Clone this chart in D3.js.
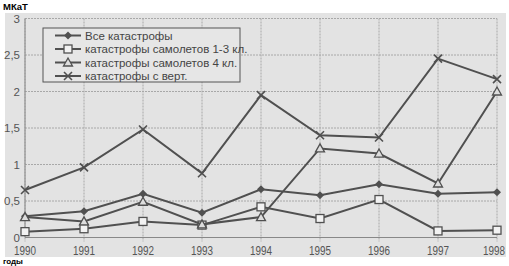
<!DOCTYPE html>
<html><head><meta charset="utf-8">
<script src="https://cdn.jsdelivr.net/npm/d3@7"></script>
<style>body{margin:0;background:#fff}svg{display:block}</style>
</head><body><svg id="c" width="509" height="266"></svg>
<script>
const years = [1990,1991,1992,1993,1994,1995,1996,1997,1998];
const allCat = [0.29,0.36,0.60,0.34,0.66,0.58,0.73,0.60,0.62];
const plane13 = [0.08,0.12,0.22,0.17,0.42,0.26,0.52,0.09,0.10];
const plane4 = [0.28,0.22,0.49,0.18,0.28,1.22,1.15,0.74,2.00];
const heli = [0.65,0.96,1.48,0.88,1.95,1.40,1.37,2.45,2.17];
const seriesNames = ["Все катастрофы","катастрофы самолетов 1-3 кл.","катастрофы самолетов 4 кл.","катастрофы с верт."];
const yTicks = [0,0.5,1,1.5,2,2.5,3];
const yTickLabels = ["0","0,5","1","1,5","2","2,5","3"];
const yTitle = "МКаТ";
const xTitle = "годы";

const series = [
  {name:seriesNames[0], values:allCat, sym:"diamond"},
  {name:seriesNames[1], values:plane13, sym:"square"},
  {name:seriesNames[2], values:plane4, sym:"triangle"},
  {name:seriesNames[3], values:heli, sym:"cross"}
];
const svg = d3.select("#c");
const x = d3.scalePoint().domain(years).range([25,497]);
const y = d3.scaleLinear().domain([0,3]).range([237.5,18.5]);
const lineCol = "#505050";
const font = "Arial, 'Liberation Sans', sans-serif";

svg.append("rect").attr("x",5).attr("y",13).attr("width",501).attr("height",244).attr("fill","#e3e3e3");

// grid
svg.append("g").selectAll("line").data(yTicks).join("line")
  .attr("x1",x(years[0])).attr("x2",x(years[years.length-1]))
  .attr("y1",d=>y(d)).attr("y2",d=>y(d))
  .attr("stroke","#a8a8a8").attr("stroke-width",1).attr("stroke-dasharray","2,1");
svg.append("g").selectAll("line").data(years).join("line")
  .attr("x1",d=>x(d)).attr("x2",d=>x(d))
  .attr("y1",y(3)).attr("y2",y(0)+4)
  .attr("stroke","#a8a8a8").attr("stroke-width",1).attr("stroke-dasharray","2,1");
svg.append("line").attr("x1",x(years[0])).attr("x2",x(years[0])).attr("y1",y(3)).attr("y2",y(0))
  .attr("stroke","#888");
svg.append("line").attr("x1",x(years[0])).attr("x2",x(years[years.length-1])).attr("y1",y(0)).attr("y2",y(0))
  .attr("stroke","#888");

// axes labels
svg.append("g").selectAll("text").data(yTicks).join("text")
  .attr("x",20).attr("y",d=>y(d)+4).attr("text-anchor","end")
  .attr("font-family",font).attr("font-size",11.5).attr("fill","#555")
  .text((d,i)=>yTickLabels[i]);
svg.append("g").selectAll("text").data(years).join("text")
  .attr("x",d=>Math.min(x(d),494)).attr("y",255).attr("text-anchor","middle")
  .attr("font-family",font).attr("font-size",12).attr("fill","#555")
  .attr("textLength",22).attr("lengthAdjust","spacingAndGlyphs")
  .text(d=>d);

svg.append("text").attr("x",3).attr("y",9.5).attr("font-family",font).attr("font-weight","bold")
  .attr("font-size",9.5).attr("fill","#000").text(yTitle);
svg.append("text").attr("x",3).attr("y",264).attr("font-family",font).attr("font-weight","bold")
  .attr("font-size",8).attr("fill","#000").text(xTitle);

function drawSym(g, sym, cx, cy){
  if(sym==="diamond"){
    g.append("path").attr("d",`M${cx},${cy-4}L${cx+4},${cy}L${cx},${cy+4}L${cx-4},${cy}Z`).attr("fill",lineCol);
  } else if(sym==="square"){
    g.append("rect").attr("x",cx-4).attr("y",cy-4).attr("width",8).attr("height",8)
      .attr("fill","#f2f2f2").attr("stroke",lineCol).attr("stroke-width",1.3);
  } else if(sym==="triangle"){
    g.append("path").attr("d",`M${cx},${cy-4.5}L${cx+4.5},${cy+3.5}L${cx-4.5},${cy+3.5}Z`)
      .attr("fill","#ddd").attr("stroke",lineCol).attr("stroke-width",1.3);
  } else {
    g.append("path").attr("d",`M${cx-4},${cy-4}L${cx+4},${cy+4}M${cx+4},${cy-4}L${cx-4},${cy+4}`)
      .attr("stroke",lineCol).attr("stroke-width",1.6);
  }
}

const line = d3.line().x((d,i)=>x(years[i])).y(d=>y(d));
series.forEach(s=>{
  svg.append("path").attr("d",line(s.values)).attr("fill","none").attr("stroke",lineCol).attr("stroke-width",2);
  const g = svg.append("g");
  s.values.forEach((v,i)=>drawSym(g,s.sym,x(years[i]),y(v)));
});

// legend
const lg = svg.append("g");
lg.append("rect").attr("x",43).attr("y",28).attr("width",197).attr("height",54)
  .attr("fill","#e6e6e6").attr("stroke","#555").attr("stroke-width",1);
series.forEach((s,i)=>{
  const ly = 35.5 + i*13.5;
  lg.append("line").attr("x1",55).attr("x2",81).attr("y1",ly).attr("y2",ly).attr("stroke",lineCol).attr("stroke-width",2);
  drawSym(lg,s.sym,68,ly);
  lg.append("text").attr("x",85).attr("y",ly+4).attr("font-family",font).attr("font-size",11.5)
    .attr("fill","#444").text(s.name);
});
</script></body></html>
